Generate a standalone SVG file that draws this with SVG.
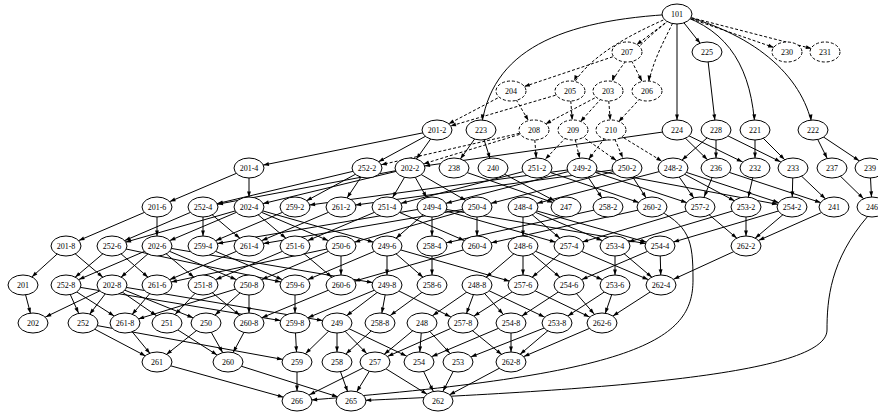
<svg xmlns="http://www.w3.org/2000/svg" width="878" height="414" viewBox="0 0 878 414">
<style>
.e path{fill:none;stroke:#000;stroke-width:1}
.e path.d{stroke-dasharray:3,2}
.n ellipse{fill:#fff;stroke:#000;stroke-width:1}
.n.d ellipse{stroke-dasharray:3,2}
.n text{font-family:"Liberation Serif","Times New Roman",serif;font-size:8px;text-anchor:middle;fill:#000}
</style>
<defs>
<marker id="m10" markerUnits="userSpaceOnUse" markerWidth="30" markerHeight="6" refX="15.6" refY="1.95" orient="auto" overflow="visible"><path d="M0,0L5.6,1.95L0,3.9z"/></marker>
<marker id="m11" markerUnits="userSpaceOnUse" markerWidth="30" markerHeight="6" refX="16.6" refY="1.95" orient="auto" overflow="visible"><path d="M0,0L5.6,1.95L0,3.9z"/></marker>
<marker id="m12" markerUnits="userSpaceOnUse" markerWidth="30" markerHeight="6" refX="17.6" refY="1.95" orient="auto" overflow="visible"><path d="M0,0L5.6,1.95L0,3.9z"/></marker>
<marker id="m13" markerUnits="userSpaceOnUse" markerWidth="30" markerHeight="6" refX="18.6" refY="1.95" orient="auto" overflow="visible"><path d="M0,0L5.6,1.95L0,3.9z"/></marker>
<marker id="m14" markerUnits="userSpaceOnUse" markerWidth="30" markerHeight="6" refX="19.6" refY="1.95" orient="auto" overflow="visible"><path d="M0,0L5.6,1.95L0,3.9z"/></marker>
<marker id="m15" markerUnits="userSpaceOnUse" markerWidth="30" markerHeight="6" refX="20.2" refY="1.95" orient="auto" overflow="visible"><path d="M0,0L5.6,1.95L0,3.9z"/></marker>
</defs>
<rect width="878" height="414" fill="#fff"/>
<g id="edges" class="e">
<path class="d" d="M677,14L627,52" marker-end="url(#m12)"/>
<path class="d" d="M677,14C640,30 585,55 570,91" marker-end="url(#m11)"/>
<path class="d" d="M677,14C650,35 620,60 608,91" marker-end="url(#m11)"/>
<path class="d" d="M677,14C665,40 652,60 647,91" marker-end="url(#m10)"/>
<path class="d" d="M677,14L787,52" marker-end="url(#m14)"/>
<path class="d" d="M677,14L825,52" marker-end="url(#m14)"/>
<path class="d" d="M627,52L511,91" marker-end="url(#m14)"/>
<path class="d" d="M627,52L647,91" marker-end="url(#m11)"/>
<path d="M677,14C560,20 490,50 481,130" marker-end="url(#m10)"/>
<path d="M677,14L677,130" marker-end="url(#m10)"/>
<path d="M677,14L707,52" marker-end="url(#m11)"/>
<path d="M677,14C730,30 752,70 755,130" marker-end="url(#m10)"/>
<path d="M677,14C760,35 805,80 813,130" marker-end="url(#m10)"/>
<path d="M707,52L716,130" marker-end="url(#m10)"/>
<path class="d" d="M511,91L437,130" marker-end="url(#m13)"/>
<path class="d" d="M570,91L437,130" marker-end="url(#m14)"/>
<path class="d" d="M511,91L534,130" marker-end="url(#m11)"/>
<path class="d" d="M608,91L534,130" marker-end="url(#m13)"/>
<path class="d" d="M570,91L573,130" marker-end="url(#m10)"/>
<path class="d" d="M608,91L573,130" marker-end="url(#m11)"/>
<path class="d" d="M608,91L611,130" marker-end="url(#m10)"/>
<path class="d" d="M647,91L611,130" marker-end="url(#m11)"/>
<path d="M437,130L249,168" marker-end="url(#m15)"/>
<path d="M437,130L410,168" marker-end="url(#m11)"/>
<path d="M437,130L367,168" marker-end="url(#m13)"/>
<path d="M481,130L454,168" marker-end="url(#m11)"/>
<path d="M481,130L493,168" marker-end="url(#m10)"/>
<path d="M677,130L410,168" marker-end="url(#m15)"/>
<path d="M677,130L716,168" marker-end="url(#m12)"/>
<path d="M677,130L755,168" marker-end="url(#m14)"/>
<path d="M716,130L716,168" marker-end="url(#m10)"/>
<path d="M716,130L673,168" marker-end="url(#m12)"/>
<path d="M716,130L793,168" marker-end="url(#m14)"/>
<path d="M755,130L755,168" marker-end="url(#m10)"/>
<path d="M755,130L793,168" marker-end="url(#m12)"/>
<path d="M813,130L832,168" marker-end="url(#m11)"/>
<path d="M813,130L870,168" marker-end="url(#m13)"/>
<path class="d" d="M534,130L367,168" marker-end="url(#m15)"/>
<path class="d" d="M534,130L410,168" marker-end="url(#m14)"/>
<path class="d" d="M534,130L537,168" marker-end="url(#m10)"/>
<path class="d" d="M573,130L537,168" marker-end="url(#m12)"/>
<path class="d" d="M573,130L582,168" marker-end="url(#m10)"/>
<path class="d" d="M573,130L627,168" marker-end="url(#m13)"/>
<path class="d" d="M611,130L582,168" marker-end="url(#m11)"/>
<path class="d" d="M611,130L627,168" marker-end="url(#m11)"/>
<path class="d" d="M611,130L673,168" marker-end="url(#m13)"/>
<path d="M249,168L157,207" marker-end="url(#m14)"/>
<path d="M249,168L249,207" marker-end="url(#m10)"/>
<path d="M367,168L203,207" marker-end="url(#m15)"/>
<path d="M367,168L295,207" marker-end="url(#m13)"/>
<path d="M367,168L341,207" marker-end="url(#m11)"/>
<path d="M410,168L249,207" marker-end="url(#m15)"/>
<path d="M410,168L203,207" marker-end="url(#m15)"/>
<path d="M410,168L387,207" marker-end="url(#m11)"/>
<path d="M410,168L432,207" marker-end="url(#m11)"/>
<path d="M410,168L477,207" marker-end="url(#m13)"/>
<path d="M537,168L387,207" marker-end="url(#m15)"/>
<path d="M537,168L652,207" marker-end="url(#m14)"/>
<path d="M582,168L432,207" marker-end="url(#m15)"/>
<path d="M582,168L608,207" marker-end="url(#m11)"/>
<path d="M582,168L295,207" marker-end="url(#m15)"/>
<path d="M582,168L700,207" marker-end="url(#m14)"/>
<path d="M582,168L792,207" marker-end="url(#m15)"/>
<path d="M627,168L477,207" marker-end="url(#m15)"/>
<path d="M627,168L652,207" marker-end="url(#m11)"/>
<path d="M627,168L341,207" marker-end="url(#m15)"/>
<path d="M673,168L523,207" marker-end="url(#m15)"/>
<path d="M673,168L746,207" marker-end="url(#m13)"/>
<path d="M673,168L792,207" marker-end="url(#m14)"/>
<path d="M673,168L700,207" marker-end="url(#m11)"/>
<path d="M454,168L566,207" marker-end="url(#m14)"/>
<path d="M493,168L566,207" marker-end="url(#m13)"/>
<path d="M716,168L700,207" marker-end="url(#m11)"/>
<path d="M716,168L834,207" marker-end="url(#m14)"/>
<path d="M755,168L746,207" marker-end="url(#m10)"/>
<path d="M793,168L792,207" marker-end="url(#m10)"/>
<path d="M793,168L834,207" marker-end="url(#m12)"/>
<path d="M832,168L872,207" marker-end="url(#m12)"/>
<path d="M870,168L872,207" marker-end="url(#m10)"/>
<path d="M157,207L66,246" marker-end="url(#m14)"/>
<path d="M157,207L157,246" marker-end="url(#m10)"/>
<path d="M203,207L112,246" marker-end="url(#m14)"/>
<path d="M203,207L203,246" marker-end="url(#m10)"/>
<path d="M203,207L249,246" marker-end="url(#m12)"/>
<path d="M249,207L157,246" marker-end="url(#m14)"/>
<path d="M249,207L112,246" marker-end="url(#m14)"/>
<path d="M249,207L295,246" marker-end="url(#m12)"/>
<path d="M249,207L387,246" marker-end="url(#m14)"/>
<path d="M249,207L341,246" marker-end="url(#m14)"/>
<path d="M295,207L203,246" marker-end="url(#m14)"/>
<path d="M341,207L249,246" marker-end="url(#m14)"/>
<path d="M387,207L295,246" marker-end="url(#m14)"/>
<path d="M387,207L477,246" marker-end="url(#m14)"/>
<path d="M432,207L387,246" marker-end="url(#m12)"/>
<path d="M432,207L432,246" marker-end="url(#m10)"/>
<path d="M432,207L203,246" marker-end="url(#m15)"/>
<path d="M432,207L569,246" marker-end="url(#m14)"/>
<path d="M432,207L660,246" marker-end="url(#m15)"/>
<path d="M477,207L341,246" marker-end="url(#m14)"/>
<path d="M477,207L477,246" marker-end="url(#m10)"/>
<path d="M477,207L249,246" marker-end="url(#m15)"/>
<path d="M523,207L523,246" marker-end="url(#m10)"/>
<path d="M523,207L615,246" marker-end="url(#m14)"/>
<path d="M523,207L660,246" marker-end="url(#m14)"/>
<path d="M523,207L569,246" marker-end="url(#m12)"/>
<path d="M608,207L432,246" marker-end="url(#m15)"/>
<path d="M652,207L477,246" marker-end="url(#m15)"/>
<path d="M700,207L569,246" marker-end="url(#m14)"/>
<path d="M700,207L746,246" marker-end="url(#m12)"/>
<path d="M746,207L615,246" marker-end="url(#m14)"/>
<path d="M746,207L746,246" marker-end="url(#m10)"/>
<path d="M792,207L660,246" marker-end="url(#m14)"/>
<path d="M792,207L746,246" marker-end="url(#m12)"/>
<path d="M834,207L746,246" marker-end="url(#m14)"/>
<path d="M66,246L23,285" marker-end="url(#m12)"/>
<path d="M66,246L112,285" marker-end="url(#m12)"/>
<path d="M112,246L66,285" marker-end="url(#m12)"/>
<path d="M112,246L295,285" marker-end="url(#m15)"/>
<path d="M112,246L157,285" marker-end="url(#m12)"/>
<path d="M157,246L112,285" marker-end="url(#m12)"/>
<path d="M157,246L66,285" marker-end="url(#m14)"/>
<path d="M157,246L203,285" marker-end="url(#m12)"/>
<path d="M157,246L387,285" marker-end="url(#m15)"/>
<path d="M157,246L249,285" marker-end="url(#m14)"/>
<path d="M203,246L295,285" marker-end="url(#m14)"/>
<path d="M249,246L157,285" marker-end="url(#m14)"/>
<path d="M295,246L203,285" marker-end="url(#m14)"/>
<path d="M295,246L341,285" marker-end="url(#m12)"/>
<path d="M341,246L249,285" marker-end="url(#m14)"/>
<path d="M341,246L341,285" marker-end="url(#m10)"/>
<path d="M341,246L157,285" marker-end="url(#m15)"/>
<path d="M387,246L387,285" marker-end="url(#m10)"/>
<path d="M387,246L432,285" marker-end="url(#m12)"/>
<path d="M387,246L295,285" marker-end="url(#m14)"/>
<path d="M387,246L523,285" marker-end="url(#m14)"/>
<path d="M432,246L432,285" marker-end="url(#m10)"/>
<path d="M477,246L341,285" marker-end="url(#m14)"/>
<path d="M523,246L477,285" marker-end="url(#m12)"/>
<path d="M523,246L569,285" marker-end="url(#m12)"/>
<path d="M523,246L615,285" marker-end="url(#m14)"/>
<path d="M523,246L523,285" marker-end="url(#m10)"/>
<path d="M569,246L523,285" marker-end="url(#m12)"/>
<path d="M569,246L661,285" marker-end="url(#m14)"/>
<path d="M615,246L615,285" marker-end="url(#m10)"/>
<path d="M615,246L661,285" marker-end="url(#m12)"/>
<path d="M660,246L569,285" marker-end="url(#m14)"/>
<path d="M660,246L661,285" marker-end="url(#m10)"/>
<path d="M746,246L661,285" marker-end="url(#m14)"/>
<path d="M23,285L33,323" marker-end="url(#m10)"/>
<path d="M66,285L83,323" marker-end="url(#m11)"/>
<path d="M66,285L295,323" marker-end="url(#m15)"/>
<path d="M66,285L125,323" marker-end="url(#m13)"/>
<path d="M112,285L33,323" marker-end="url(#m14)"/>
<path d="M112,285L83,323" marker-end="url(#m11)"/>
<path d="M112,285L167,323" marker-end="url(#m13)"/>
<path d="M112,285L337,323" marker-end="url(#m15)"/>
<path d="M112,285L206,323" marker-end="url(#m14)"/>
<path d="M157,285L125,323" marker-end="url(#m11)"/>
<path d="M203,285L167,323" marker-end="url(#m12)"/>
<path d="M203,285L249,323" marker-end="url(#m12)"/>
<path d="M249,285L206,323" marker-end="url(#m12)"/>
<path d="M249,285L249,323" marker-end="url(#m10)"/>
<path d="M249,285L125,323" marker-end="url(#m14)"/>
<path d="M295,285L295,323" marker-end="url(#m10)"/>
<path d="M341,285L249,323" marker-end="url(#m14)"/>
<path d="M387,285L337,323" marker-end="url(#m12)"/>
<path d="M387,285L380,323" marker-end="url(#m10)"/>
<path d="M387,285L295,323" marker-end="url(#m14)"/>
<path d="M387,285L463,323" marker-end="url(#m14)"/>
<path d="M432,285L380,323" marker-end="url(#m13)"/>
<path d="M477,285L422,323" marker-end="url(#m13)"/>
<path d="M477,285L511,323" marker-end="url(#m12)"/>
<path d="M477,285L557,323" marker-end="url(#m14)"/>
<path d="M477,285L463,323" marker-end="url(#m10)"/>
<path d="M523,285L463,323" marker-end="url(#m13)"/>
<path d="M523,285L602,323" marker-end="url(#m14)"/>
<path d="M569,285L511,323" marker-end="url(#m13)"/>
<path d="M569,285L602,323" marker-end="url(#m12)"/>
<path d="M615,285L557,323" marker-end="url(#m13)"/>
<path d="M615,285L602,323" marker-end="url(#m10)"/>
<path d="M661,285L602,323" marker-end="url(#m13)"/>
<path d="M125,323L157,362" marker-end="url(#m11)"/>
<path d="M83,323L157,362" marker-end="url(#m13)"/>
<path d="M83,323L297,362" marker-end="url(#m15)"/>
<path d="M249,323L228,362" marker-end="url(#m11)"/>
<path d="M206,323L228,362" marker-end="url(#m11)"/>
<path d="M167,323L228,362" marker-end="url(#m13)"/>
<path d="M206,323L157,362" marker-end="url(#m12)"/>
<path d="M295,323L297,362" marker-end="url(#m10)"/>
<path d="M337,323L297,362" marker-end="url(#m12)"/>
<path d="M337,323L337,362" marker-end="url(#m10)"/>
<path d="M337,323L375,362" marker-end="url(#m12)"/>
<path d="M337,323L419,362" marker-end="url(#m14)"/>
<path d="M380,323L337,362" marker-end="url(#m12)"/>
<path d="M463,323L375,362" marker-end="url(#m14)"/>
<path d="M422,323L419,362" marker-end="url(#m10)"/>
<path d="M422,323L458,362" marker-end="url(#m12)"/>
<path d="M422,323L375,362" marker-end="url(#m12)"/>
<path d="M511,323L419,362" marker-end="url(#m14)"/>
<path d="M557,323L458,362" marker-end="url(#m14)"/>
<path d="M557,323L511,362" marker-end="url(#m12)"/>
<path d="M511,323L511,362" marker-end="url(#m10)"/>
<path d="M463,323L511,362" marker-end="url(#m12)"/>
<path d="M602,323L511,362" marker-end="url(#m14)"/>
<path d="M511,362L438,401" marker-end="url(#m13)"/>
<path d="M458,362L438,401" marker-end="url(#m11)"/>
<path d="M419,362L438,401" marker-end="url(#m11)"/>
<path d="M375,362L438,401" marker-end="url(#m13)"/>
<path d="M157,362L297,401" marker-end="url(#m14)"/>
<path d="M297,362L297,401" marker-end="url(#m10)"/>
<path d="M375,362L297,401" marker-end="url(#m14)"/>
<path d="M228,362L351,401" marker-end="url(#m14)"/>
<path d="M337,362L351,401" marker-end="url(#m10)"/>
<path d="M375,362L351,401" marker-end="url(#m11)"/>
<path d="M868,216C830,260 827,300 827,330C827,375 600,390 351,401" marker-end="url(#m15)"/>
<path d="M652,207C690,225 693,240 693,280C693,340 640,375 297,401" marker-end="url(#m15)"/>
</g>
<g id="n101" class="n"><ellipse cx="677" cy="14" rx="15" ry="10"/><text x="677" y="16.8">101</text></g>
<g id="n207" class="n d"><ellipse cx="627" cy="52" rx="15" ry="10"/><text x="627" y="54.8">207</text></g>
<g id="n225" class="n"><ellipse cx="707" cy="52" rx="15" ry="10"/><text x="707" y="54.8">225</text></g>
<g id="n230" class="n d"><ellipse cx="787" cy="52" rx="15" ry="10"/><text x="787" y="54.8">230</text></g>
<g id="n231" class="n d"><ellipse cx="825" cy="52" rx="15" ry="10"/><text x="825" y="54.8">231</text></g>
<g id="n204" class="n d"><ellipse cx="511" cy="91" rx="15" ry="10"/><text x="511" y="93.8">204</text></g>
<g id="n205" class="n d"><ellipse cx="570" cy="91" rx="15" ry="10"/><text x="570" y="93.8">205</text></g>
<g id="n203" class="n d"><ellipse cx="608" cy="91" rx="15" ry="10"/><text x="608" y="93.8">203</text></g>
<g id="n206" class="n d"><ellipse cx="647" cy="91" rx="15" ry="10"/><text x="647" y="93.8">206</text></g>
<g id="n201-2" class="n"><ellipse cx="437" cy="130" rx="15" ry="10"/><text x="437" y="132.8">201-2</text></g>
<g id="n223" class="n"><ellipse cx="481" cy="130" rx="15" ry="10"/><text x="481" y="132.8">223</text></g>
<g id="n208" class="n d"><ellipse cx="534" cy="130" rx="15" ry="10"/><text x="534" y="132.8">208</text></g>
<g id="n209" class="n d"><ellipse cx="573" cy="130" rx="15" ry="10"/><text x="573" y="132.8">209</text></g>
<g id="n210" class="n d"><ellipse cx="611" cy="130" rx="15" ry="10"/><text x="611" y="132.8">210</text></g>
<g id="n224" class="n"><ellipse cx="677" cy="130" rx="15" ry="10"/><text x="677" y="132.8">224</text></g>
<g id="n228" class="n"><ellipse cx="716" cy="130" rx="15" ry="10"/><text x="716" y="132.8">228</text></g>
<g id="n221" class="n"><ellipse cx="755" cy="130" rx="15" ry="10"/><text x="755" y="132.8">221</text></g>
<g id="n222" class="n"><ellipse cx="813" cy="130" rx="15" ry="10"/><text x="813" y="132.8">222</text></g>
<g id="n201-4" class="n"><ellipse cx="249" cy="168" rx="15" ry="10"/><text x="249" y="170.8">201-4</text></g>
<g id="n252-2" class="n"><ellipse cx="367" cy="168" rx="15" ry="10"/><text x="367" y="170.8">252-2</text></g>
<g id="n202-2" class="n"><ellipse cx="410" cy="168" rx="15" ry="10"/><text x="410" y="170.8">202-2</text></g>
<g id="n238" class="n"><ellipse cx="454" cy="168" rx="15" ry="10"/><text x="454" y="170.8">238</text></g>
<g id="n240" class="n"><ellipse cx="493" cy="168" rx="15" ry="10"/><text x="493" y="170.8">240</text></g>
<g id="n251-2" class="n"><ellipse cx="537" cy="168" rx="15" ry="10"/><text x="537" y="170.8">251-2</text></g>
<g id="n249-2" class="n"><ellipse cx="582" cy="168" rx="15" ry="10"/><text x="582" y="170.8">249-2</text></g>
<g id="n250-2" class="n"><ellipse cx="627" cy="168" rx="15" ry="10"/><text x="627" y="170.8">250-2</text></g>
<g id="n248-2" class="n"><ellipse cx="673" cy="168" rx="15" ry="10"/><text x="673" y="170.8">248-2</text></g>
<g id="n236" class="n"><ellipse cx="716" cy="168" rx="15" ry="10"/><text x="716" y="170.8">236</text></g>
<g id="n232" class="n"><ellipse cx="755" cy="168" rx="15" ry="10"/><text x="755" y="170.8">232</text></g>
<g id="n233" class="n"><ellipse cx="793" cy="168" rx="15" ry="10"/><text x="793" y="170.8">233</text></g>
<g id="n237" class="n"><ellipse cx="832" cy="168" rx="15" ry="10"/><text x="832" y="170.8">237</text></g>
<g id="n239" class="n"><ellipse cx="870" cy="168" rx="15" ry="10"/><text x="870" y="170.8">239</text></g>
<g id="n201-6" class="n"><ellipse cx="157" cy="207" rx="15" ry="10"/><text x="157" y="209.8">201-6</text></g>
<g id="n252-4" class="n"><ellipse cx="203" cy="207" rx="15" ry="10"/><text x="203" y="209.8">252-4</text></g>
<g id="n202-4" class="n"><ellipse cx="249" cy="207" rx="15" ry="10"/><text x="249" y="209.8">202-4</text></g>
<g id="n259-2" class="n"><ellipse cx="295" cy="207" rx="15" ry="10"/><text x="295" y="209.8">259-2</text></g>
<g id="n261-2" class="n"><ellipse cx="341" cy="207" rx="15" ry="10"/><text x="341" y="209.8">261-2</text></g>
<g id="n251-4" class="n"><ellipse cx="387" cy="207" rx="15" ry="10"/><text x="387" y="209.8">251-4</text></g>
<g id="n249-4" class="n"><ellipse cx="432" cy="207" rx="15" ry="10"/><text x="432" y="209.8">249-4</text></g>
<g id="n250-4" class="n"><ellipse cx="477" cy="207" rx="15" ry="10"/><text x="477" y="209.8">250-4</text></g>
<g id="n248-4" class="n"><ellipse cx="523" cy="207" rx="15" ry="10"/><text x="523" y="209.8">248-4</text></g>
<g id="n247" class="n"><ellipse cx="566" cy="207" rx="15" ry="10"/><text x="566" y="209.8">247</text></g>
<g id="n258-2" class="n"><ellipse cx="608" cy="207" rx="15" ry="10"/><text x="608" y="209.8">258-2</text></g>
<g id="n260-2" class="n"><ellipse cx="652" cy="207" rx="15" ry="10"/><text x="652" y="209.8">260-2</text></g>
<g id="n257-2" class="n"><ellipse cx="700" cy="207" rx="15" ry="10"/><text x="700" y="209.8">257-2</text></g>
<g id="n253-2" class="n"><ellipse cx="746" cy="207" rx="15" ry="10"/><text x="746" y="209.8">253-2</text></g>
<g id="n254-2" class="n"><ellipse cx="792" cy="207" rx="15" ry="10"/><text x="792" y="209.8">254-2</text></g>
<g id="n241" class="n"><ellipse cx="834" cy="207" rx="15" ry="10"/><text x="834" y="209.8">241</text></g>
<g id="n246" class="n"><ellipse cx="872" cy="207" rx="15" ry="10"/><text x="872" y="209.8">246</text></g>
<g id="n201-8" class="n"><ellipse cx="66" cy="246" rx="15" ry="10"/><text x="66" y="248.8">201-8</text></g>
<g id="n252-6" class="n"><ellipse cx="112" cy="246" rx="15" ry="10"/><text x="112" y="248.8">252-6</text></g>
<g id="n202-6" class="n"><ellipse cx="157" cy="246" rx="15" ry="10"/><text x="157" y="248.8">202-6</text></g>
<g id="n259-4" class="n"><ellipse cx="203" cy="246" rx="15" ry="10"/><text x="203" y="248.8">259-4</text></g>
<g id="n261-4" class="n"><ellipse cx="249" cy="246" rx="15" ry="10"/><text x="249" y="248.8">261-4</text></g>
<g id="n251-6" class="n"><ellipse cx="295" cy="246" rx="15" ry="10"/><text x="295" y="248.8">251-6</text></g>
<g id="n250-6" class="n"><ellipse cx="341" cy="246" rx="15" ry="10"/><text x="341" y="248.8">250-6</text></g>
<g id="n249-6" class="n"><ellipse cx="387" cy="246" rx="15" ry="10"/><text x="387" y="248.8">249-6</text></g>
<g id="n258-4" class="n"><ellipse cx="432" cy="246" rx="15" ry="10"/><text x="432" y="248.8">258-4</text></g>
<g id="n260-4" class="n"><ellipse cx="477" cy="246" rx="15" ry="10"/><text x="477" y="248.8">260-4</text></g>
<g id="n248-6" class="n"><ellipse cx="523" cy="246" rx="15" ry="10"/><text x="523" y="248.8">248-6</text></g>
<g id="n257-4" class="n"><ellipse cx="569" cy="246" rx="15" ry="10"/><text x="569" y="248.8">257-4</text></g>
<g id="n253-4" class="n"><ellipse cx="615" cy="246" rx="15" ry="10"/><text x="615" y="248.8">253-4</text></g>
<g id="n254-4" class="n"><ellipse cx="660" cy="246" rx="15" ry="10"/><text x="660" y="248.8">254-4</text></g>
<g id="n262-2" class="n"><ellipse cx="746" cy="246" rx="15" ry="10"/><text x="746" y="248.8">262-2</text></g>
<g id="n201" class="n"><ellipse cx="23" cy="285" rx="15" ry="10"/><text x="23" y="287.8">201</text></g>
<g id="n252-8" class="n"><ellipse cx="66" cy="285" rx="15" ry="10"/><text x="66" y="287.8">252-8</text></g>
<g id="n202-8" class="n"><ellipse cx="112" cy="285" rx="15" ry="10"/><text x="112" y="287.8">202-8</text></g>
<g id="n261-6" class="n"><ellipse cx="157" cy="285" rx="15" ry="10"/><text x="157" y="287.8">261-6</text></g>
<g id="n251-8" class="n"><ellipse cx="203" cy="285" rx="15" ry="10"/><text x="203" y="287.8">251-8</text></g>
<g id="n250-8" class="n"><ellipse cx="249" cy="285" rx="15" ry="10"/><text x="249" y="287.8">250-8</text></g>
<g id="n259-6" class="n"><ellipse cx="295" cy="285" rx="15" ry="10"/><text x="295" y="287.8">259-6</text></g>
<g id="n260-6" class="n"><ellipse cx="341" cy="285" rx="15" ry="10"/><text x="341" y="287.8">260-6</text></g>
<g id="n249-8" class="n"><ellipse cx="387" cy="285" rx="15" ry="10"/><text x="387" y="287.8">249-8</text></g>
<g id="n258-6" class="n"><ellipse cx="432" cy="285" rx="15" ry="10"/><text x="432" y="287.8">258-6</text></g>
<g id="n248-8" class="n"><ellipse cx="477" cy="285" rx="15" ry="10"/><text x="477" y="287.8">248-8</text></g>
<g id="n257-6" class="n"><ellipse cx="523" cy="285" rx="15" ry="10"/><text x="523" y="287.8">257-6</text></g>
<g id="n254-6" class="n"><ellipse cx="569" cy="285" rx="15" ry="10"/><text x="569" y="287.8">254-6</text></g>
<g id="n253-6" class="n"><ellipse cx="615" cy="285" rx="15" ry="10"/><text x="615" y="287.8">253-6</text></g>
<g id="n262-4" class="n"><ellipse cx="661" cy="285" rx="15" ry="10"/><text x="661" y="287.8">262-4</text></g>
<g id="n202" class="n"><ellipse cx="33" cy="323" rx="15" ry="10"/><text x="33" y="325.8">202</text></g>
<g id="n252" class="n"><ellipse cx="83" cy="323" rx="15" ry="10"/><text x="83" y="325.8">252</text></g>
<g id="n261-8" class="n"><ellipse cx="125" cy="323" rx="15" ry="10"/><text x="125" y="325.8">261-8</text></g>
<g id="n251" class="n"><ellipse cx="167" cy="323" rx="15" ry="10"/><text x="167" y="325.8">251</text></g>
<g id="n250" class="n"><ellipse cx="206" cy="323" rx="15" ry="10"/><text x="206" y="325.8">250</text></g>
<g id="n260-8" class="n"><ellipse cx="249" cy="323" rx="15" ry="10"/><text x="249" y="325.8">260-8</text></g>
<g id="n259-8" class="n"><ellipse cx="295" cy="323" rx="15" ry="10"/><text x="295" y="325.8">259-8</text></g>
<g id="n249" class="n"><ellipse cx="337" cy="323" rx="15" ry="10"/><text x="337" y="325.8">249</text></g>
<g id="n258-8" class="n"><ellipse cx="380" cy="323" rx="15" ry="10"/><text x="380" y="325.8">258-8</text></g>
<g id="n248" class="n"><ellipse cx="422" cy="323" rx="15" ry="10"/><text x="422" y="325.8">248</text></g>
<g id="n257-8" class="n"><ellipse cx="463" cy="323" rx="15" ry="10"/><text x="463" y="325.8">257-8</text></g>
<g id="n254-8" class="n"><ellipse cx="511" cy="323" rx="15" ry="10"/><text x="511" y="325.8">254-8</text></g>
<g id="n253-8" class="n"><ellipse cx="557" cy="323" rx="15" ry="10"/><text x="557" y="325.8">253-8</text></g>
<g id="n262-6" class="n"><ellipse cx="602" cy="323" rx="15" ry="10"/><text x="602" y="325.8">262-6</text></g>
<g id="n261" class="n"><ellipse cx="157" cy="362" rx="15" ry="10"/><text x="157" y="364.8">261</text></g>
<g id="n260" class="n"><ellipse cx="228" cy="362" rx="15" ry="10"/><text x="228" y="364.8">260</text></g>
<g id="n259" class="n"><ellipse cx="297" cy="362" rx="15" ry="10"/><text x="297" y="364.8">259</text></g>
<g id="n258" class="n"><ellipse cx="337" cy="362" rx="15" ry="10"/><text x="337" y="364.8">258</text></g>
<g id="n257" class="n"><ellipse cx="375" cy="362" rx="15" ry="10"/><text x="375" y="364.8">257</text></g>
<g id="n254" class="n"><ellipse cx="419" cy="362" rx="15" ry="10"/><text x="419" y="364.8">254</text></g>
<g id="n253" class="n"><ellipse cx="458" cy="362" rx="15" ry="10"/><text x="458" y="364.8">253</text></g>
<g id="n262-8" class="n"><ellipse cx="511" cy="362" rx="15" ry="10"/><text x="511" y="364.8">262-8</text></g>
<g id="n266" class="n"><ellipse cx="297" cy="401" rx="15" ry="10"/><text x="297" y="403.8">266</text></g>
<g id="n265" class="n"><ellipse cx="351" cy="401" rx="15" ry="10"/><text x="351" y="403.8">265</text></g>
<g id="n262" class="n"><ellipse cx="438" cy="401" rx="15" ry="10"/><text x="438" y="403.8">262</text></g>
</svg>
